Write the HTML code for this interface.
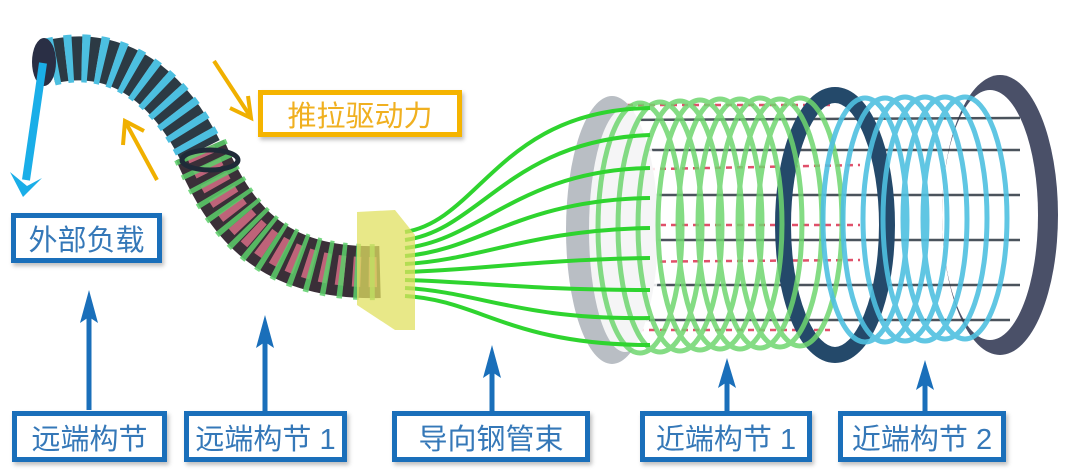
<!DOCTYPE html>
<html><head><meta charset="utf-8"><style>
html,body{margin:0;padding:0;background:#fff;}
body{width:1080px;height:475px;overflow:hidden;position:relative;font-family:"Liberation Sans","Noto Sans CJK SC",sans-serif;}
.box{position:absolute;box-sizing:border-box;border:5px solid #1a6fba;background:#fff;color:#3578b8;font-size:29px;display:flex;align-items:center;justify-content:center;white-space:nowrap;box-shadow:2px 3px 4px rgba(0,0,0,0.25);}
svg{position:absolute;left:0;top:0;}
</style></head><body>
<svg width="1080" height="475" viewBox="0 0 1080 475">
<!-- big cylinder: end flange -->
<ellipse cx="1000" cy="215" rx="58" ry="140" fill="#4a5068"/>
<ellipse cx="990" cy="215" rx="48" ry="125" fill="#fff"/>
<g stroke="#2c3640" stroke-width="2.5" opacity="0.85">
<line x1="600" y1="120" x2="1020" y2="118"/><line x1="600" y1="150" x2="1020" y2="150"/>
<line x1="600" y1="195" x2="1020" y2="195"/><line x1="600" y1="240" x2="1020" y2="240"/>
<line x1="600" y1="285" x2="1020" y2="285"/><line x1="600" y1="320" x2="1010" y2="320"/>
</g>
<g stroke="#e0506a" stroke-width="2.5" stroke-dasharray="6 5">
<line x1="605" y1="105" x2="830" y2="105"/><line x1="605" y1="170" x2="860" y2="165"/>
<line x1="605" y1="225" x2="860" y2="225"/><line x1="605" y1="262" x2="860" y2="260"/>
<line x1="605" y1="330" x2="830" y2="330"/>
</g>
<ellipse cx="612" cy="230" rx="46" ry="134" fill="#b9bec4"/>
<ellipse cx="625" cy="230" rx="36" ry="122" fill="#fff" fill-opacity="0.85"/>
<ellipse cx="835" cy="225" rx="52" ry="130" fill="none" stroke="#24496a" stroke-width="16"/>
<g fill="none" stroke="#6fd66f" stroke-width="5" opacity="0.85">
<ellipse cx="640" cy="228" rx="42" ry="125"/><ellipse cx="660" cy="227" rx="42" ry="125"/>
<ellipse cx="680" cy="226" rx="42" ry="125"/><ellipse cx="700" cy="225" rx="42" ry="125"/>
<ellipse cx="720" cy="224" rx="42" ry="125"/><ellipse cx="740" cy="224" rx="42" ry="125"/>
<ellipse cx="760" cy="223" rx="42" ry="125"/><ellipse cx="780" cy="223" rx="42" ry="124"/>
<ellipse cx="800" cy="222" rx="42" ry="124"/>
</g>
<g fill="none" stroke="#4fc0e0" stroke-width="5" opacity="0.9">
<ellipse cx="865" cy="220" rx="42" ry="122"/><ellipse cx="885" cy="220" rx="42" ry="122"/>
<ellipse cx="905" cy="219" rx="42" ry="122"/><ellipse cx="925" cy="219" rx="42" ry="122"/>
<ellipse cx="945" cy="218" rx="42" ry="121"/><ellipse cx="965" cy="218" rx="42" ry="121"/>
</g>
<g fill="none" stroke="#2fd42f" stroke-width="4">
<path d="M405,232 C480,220 500,110 650,108"/>
<path d="M405,240 C480,230 510,140 650,135"/>
<path d="M405,248 C480,240 520,170 650,168"/>
<path d="M405,256 C480,250 520,200 650,198"/>
<path d="M405,264 C480,260 530,230 650,228"/>
<path d="M405,272 C480,270 530,260 650,258"/>
<path d="M405,280 C480,282 530,290 650,290"/>
<path d="M405,288 C480,292 520,320 650,318"/>
<path d="M405,296 C480,300 510,345 650,345"/>
</g>
<!-- tube -->
<path d="M50,62 C120,45 170,90 200,150" fill="none" stroke="#2c3a44" stroke-width="44"/>
<path d="M50,62 C120,45 170,90 200,150" fill="none" stroke="#fff" stroke-width="30" stroke-dasharray="6 10" opacity="0.6"/>
<path d="M50,62 C120,45 170,90 200,150" fill="none" stroke="#4cbfe0" stroke-width="48" stroke-dasharray="7 9"/>
<path d="M200,150 C230,220 270,275 380,272" fill="none" stroke="#3a2f38" stroke-width="52"/>
<path d="M200,150 C230,220 270,275 380,272" fill="none" stroke="#e0708a" stroke-width="30" stroke-dasharray="8 8" opacity="0.8"/>
<path d="M200,150 C230,220 270,275 380,272" fill="none" stroke="#5ccf6a" stroke-width="56" stroke-dasharray="5 10" opacity="0.85"/>
<ellipse cx="44" cy="62" rx="12" ry="24" fill="#2a2f45"/>
<ellipse cx="210" cy="160" rx="28" ry="10" fill="none" stroke="#1f2a38" stroke-width="5"/>
<polygon points="357,212 395,210 415,235 415,330 395,330 357,305" fill="#e0e060" opacity="0.75"/>
<line x1="43" y1="63" x2="26" y2="180" stroke="#1aaee8" stroke-width="8"/>
<polygon points="10,172 23,197 42,178 27,186" fill="#1aaee8"/>
<g stroke="#f0b000" stroke-width="4" fill="none">
<line x1="214" y1="61" x2="250" y2="116"/><path d="M230,108 L251,118 L248,96"/>
<line x1="157" y1="180" x2="126" y2="123"/><path d="M123,145 L125,121 L144,131"/>
</g>
<g stroke="#1a6fba" stroke-width="5">
<line x1="89" y1="410" x2="89" y2="300"/>
<line x1="265" y1="412" x2="265" y2="325"/>
<line x1="492" y1="412" x2="492" y2="355"/>
<line x1="727" y1="412" x2="727" y2="370"/>
<line x1="925" y1="412" x2="925" y2="372"/>
</g>
<g fill="#1a6fba">
<polygon points="89,290 80,323 89,317 98,323"/>
<polygon points="265,315 256,348 265,342 274,348"/>
<polygon points="492,345 483,378 492,372 501,378"/>
<polygon points="727,358 718,388 727,382 736,388"/>
<polygon points="925,360 916,390 925,384 934,390"/>
</g>
</svg>
<div class="box" style="left:11px;top:213px;width:151px;height:50px;">外部负载</div>
<div class="box" style="left:258px;top:90px;width:204px;height:47px;border-color:#f5b400;color:#f0b020;">推拉驱动力</div>
<div class="box" style="left:12px;top:411px;width:155px;height:51px;">远端构节</div>
<div class="box" style="left:184px;top:411px;width:163px;height:51px;">远端构节 1</div>
<div class="box" style="left:392px;top:411px;width:198px;height:51px;">导向钢管束</div>
<div class="box" style="left:640px;top:411px;width:172px;height:51px;">近端构节 1</div>
<div class="box" style="left:838px;top:411px;width:168px;height:51px;">近端构节 2</div>
</body></html>
